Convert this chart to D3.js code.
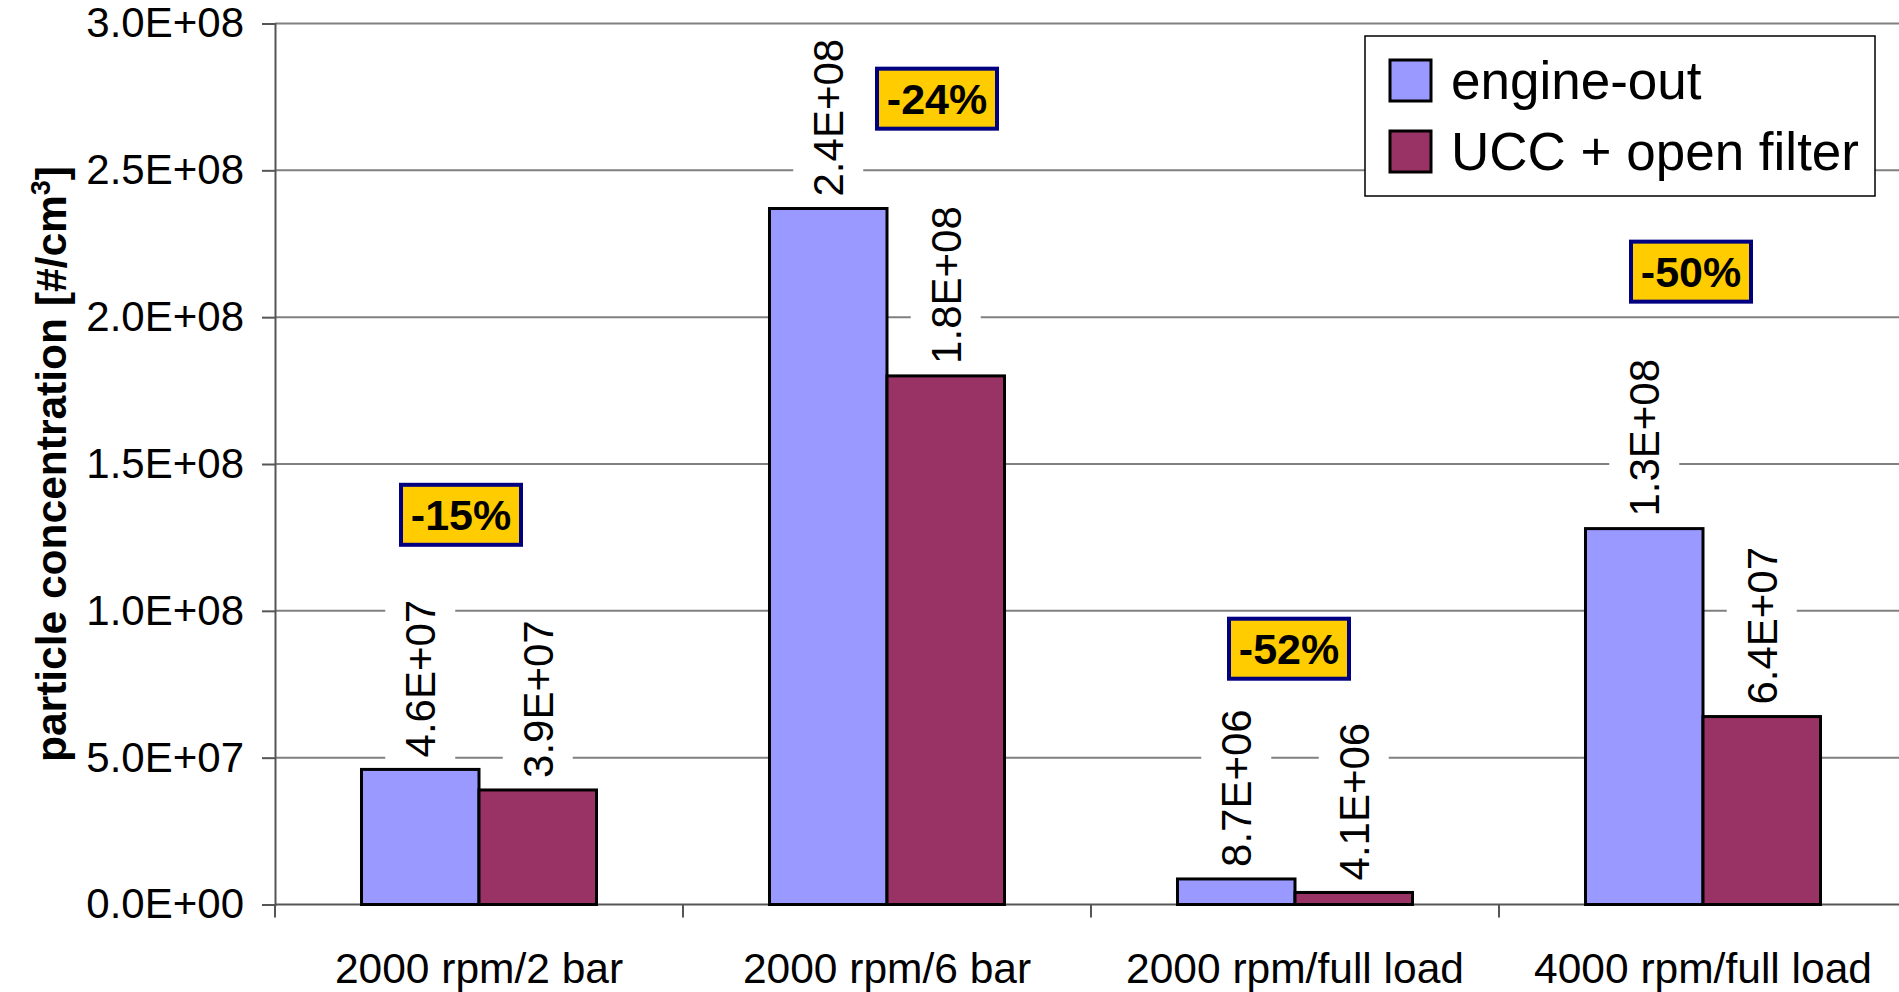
<!DOCTYPE html>
<html>
<head>
<meta charset="utf-8">
<script src="https://cdn.jsdelivr.net/npm/d3@7"></script>
<style>
  html, body { margin: 0; padding: 0; background: #fff; }
  svg { display: block; font-family: "Liberation Sans", Arial, sans-serif; }
</style>
</head>
<body>
<svg id="chart" width="1899" height="992"></svg>
<script>
// ---- data ----
const categories = ["2000 rpm/2 bar", "2000 rpm/6 bar", "2000 rpm/full load", "4000 rpm/full load"];
const seriesNames = ["engine-out", "UCC + open filter"];
const engineOut = [4.6e7, 2.37e8, 8.7e6, 1.28e8];
const uccOpenFilter = [3.9e7, 1.8e8, 4.1e6, 6.4e7];
const valueLabelsEngine = ["4.6E+07", "2.4E+08", "8.7E+06", "1.3E+08"];
const valueLabelsUcc = ["3.9E+07", "1.8E+08", "4.1E+06", "6.4E+07"];
const yTicks = [0, 5e7, 1e8, 1.5e8, 2e8, 2.5e8, 3e8];
const yTickLabels = ["0.0E+00", "5.0E+07", "1.0E+08", "1.5E+08", "2.0E+08", "2.5E+08", "3.0E+08"];
const reductionLabels = ["-15%", "-24%", "-52%", "-50%"];
const reductionLevels = [1.327e8, 2.744e8, 0.871e8, 2.155e8];
const yTitle = "particle concentration [#/cm";

// ---- layout ----
const svg = d3.select("#chart");
const plotLeft = 275, plotRight = 1907, plotTop = 23.5, plotBottom = 904.5;
const colors = ["#9999FF", "#993366"];
const annotDx = [-18, 50, -6, -12];

const x = d3.scaleBand().domain(categories).range([plotLeft, plotRight])
  .paddingInner(0.424).paddingOuter(0.212);
const xs = d3.scaleBand().domain(seriesNames).range([0, x.bandwidth()]);
const y = d3.scaleLinear().domain([0, 3e8]).range([plotBottom, plotTop]);

// gridlines
svg.append("g").selectAll("line").data(yTicks.filter(d => d > 0)).join("line")
  .attr("x1", plotLeft).attr("x2", 1899)
  .attr("y1", d => y(d)).attr("y2", d => y(d))
  .attr("stroke", "#808080").attr("stroke-width", 2);

// y axis
const yAxis = d3.axisLeft(y).tickValues(yTicks)
  .tickFormat((d, i) => yTickLabels[i]).tickSize(13).tickPadding(18);
const gy = svg.append("g").attr("transform", `translate(${plotLeft},0)`).call(yAxis);
gy.select(".domain").attr("stroke", "#555").attr("stroke-width", 2);
gy.selectAll(".tick line").attr("stroke", "#555").attr("stroke-width", 2);
gy.selectAll(".tick text").attr("font-size", 42).attr("fill", "#000")
  .attr("font-family", "Liberation Sans, Arial, sans-serif");

// series data
const series = [engineOut, uccOpenFilter];
const labels = [valueLabelsEngine, valueLabelsUcc];
const barData = [];
categories.forEach((c, i) => {
  seriesNames.forEach((s, j) => {
    barData.push({cat: c, ser: s, j, value: series[j][i], label: labels[j][i]});
  });
});

// value labels with white backgrounds
const lblG = svg.append("g");
barData.forEach(d => {
  const cx = x(d.cat) + xs(d.ser) + xs.bandwidth() / 2;
  const yStart = y(d.value) - 12;
  const g = lblG.append("g").attr("transform", `translate(${cx},${yStart}) rotate(-90)`);
  const t = g.append("text").attr("x", 0).attr("y", 0).attr("dy", "0.36em")
    .attr("font-size", 42).attr("fill", "#000").text(d.label);
  const bb = t.node().getBBox();
  g.insert("rect", "text").attr("x", bb.x - 2).attr("y", -35)
    .attr("width", bb.width + 4).attr("height", 70).attr("fill", "#fff");
});

// baseline (x axis)
svg.append("line").attr("x1", plotLeft).attr("x2", 1899)
  .attr("y1", plotBottom).attr("y2", plotBottom)
  .attr("stroke", "#555").attr("stroke-width", 2);

// category ticks at band boundaries
const boundaries = categories.map(c => x(c) - x.step() * 0.212);
svg.append("g").selectAll("line").data(boundaries).join("line")
  .attr("x1", d => d).attr("x2", d => d)
  .attr("y1", plotBottom).attr("y2", plotBottom + 13)
  .attr("stroke", "#555").attr("stroke-width", 2);

// bars
svg.append("g").selectAll("rect").data(barData).join("rect")
  .attr("x", d => x(d.cat) + xs(d.ser))
  .attr("y", d => y(d.value))
  .attr("width", xs.bandwidth())
  .attr("height", d => y(0) - y(d.value))
  .attr("fill", d => colors[d.j])
  .attr("stroke", "#000").attr("stroke-width", 3);

// category labels
svg.append("g").selectAll("text").data(categories).join("text")
  .attr("x", d => x(d) + x.bandwidth() / 2)
  .attr("y", 983)
  .attr("text-anchor", "middle").attr("font-size", 42.5).attr("fill", "#000")
  .text(d => d);

// y axis title
const yt = svg.append("text")
  .attr("transform", `translate(66,${(plotTop + plotBottom) / 2}) rotate(-90)`)
  .attr("text-anchor", "middle").attr("font-size", 42.5).attr("font-weight", "bold")
  .attr("fill", "#000");
yt.append("tspan").text(yTitle);
yt.append("tspan").attr("font-size", 27).attr("dy", -16).text("3");
yt.append("tspan").attr("dy", 16).text("]");

// reduction annotations
const ann = svg.append("g").selectAll("g").data(categories).join("g")
  .attr("transform", (d, i) => `translate(${x(d) + x.bandwidth() / 2 + annotDx[i]},${y(reductionLevels[i])})`);
ann.append("rect").attr("x", -60).attr("y", -30).attr("width", 120).attr("height", 60)
  .attr("fill", "#FFCC00").attr("stroke", "#000080").attr("stroke-width", 4);
ann.append("text").attr("text-anchor", "middle").attr("dy", "0.36em")
  .attr("font-size", 43).attr("font-weight", "bold").attr("fill", "#000")
  .text((d, i) => reductionLabels[i]);

// legend
const leg = svg.append("g");
leg.append("rect").attr("x", 1365).attr("y", 36).attr("width", 510).attr("height", 160)
  .attr("fill", "#fff").attr("stroke", "#000").attr("stroke-width", 1.5);
const li = leg.selectAll("g").data(seriesNames).join("g")
  .attr("transform", (d, i) => `translate(1390,${80 + i * 71})`);
li.append("rect").attr("x", 0).attr("y", -20).attr("width", 41).attr("height", 41)
  .attr("fill", (d, i) => colors[i]).attr("stroke", "#000").attr("stroke-width", 3);
li.append("text").attr("x", 61).attr("dy", "0.36em").attr("font-size", 53).attr("fill", "#000")
  .text(d => d);
</script>
</body>
</html>
